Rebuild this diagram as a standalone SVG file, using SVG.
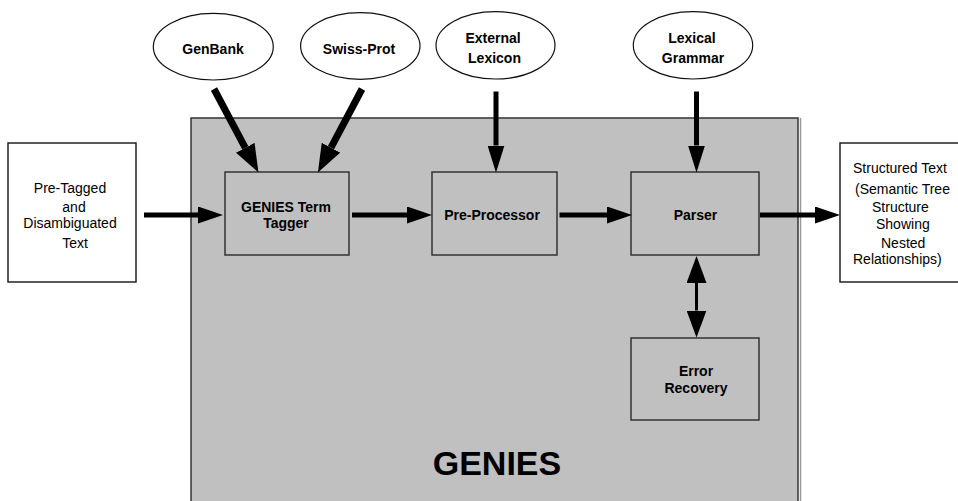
<svg xmlns="http://www.w3.org/2000/svg" width="958" height="501" viewBox="0 0 958 501">
<style>
.t{font-family:"Liberation Sans",Arial,sans-serif;font-size:14px;fill:#000;text-anchor:middle}
.b{font-weight:bold}
.l{text-anchor:start}
.box{fill:#c0c0c0;stroke:#333;stroke-width:1.5}
.wbox{fill:#fff;stroke:#222;stroke-width:1.5}
.ell{fill:#fff;stroke:#111;stroke-width:1.2}
.sh{stroke:#000;fill:none}
</style>
<defs>
<marker id="ah" viewBox="0 0 25 17" refX="0" refY="8.5" markerWidth="25" markerHeight="17" markerUnits="userSpaceOnUse" orient="auto"><path d="M0,0 L25,8.5 L0,17 Z" fill="#000"/></marker>
<marker id="av" viewBox="0 0 27 17" refX="0" refY="8.5" markerWidth="27" markerHeight="17" markerUnits="userSpaceOnUse" orient="auto"><path d="M0,0 L27,8.5 L0,17 Z" fill="#000"/></marker>
<marker id="ad" viewBox="0 0 28 21" refX="0" refY="10.5" markerWidth="28" markerHeight="21" markerUnits="userSpaceOnUse" orient="auto"><path d="M0,0 L28,10.5 L0,21 Z" fill="#000"/></marker>
<marker id="ab" viewBox="0 0 27 20" refX="0" refY="10" markerWidth="27" markerHeight="20" markerUnits="userSpaceOnUse" orient="auto-start-reverse"><path d="M0,0 L27,10 L0,20 Z" fill="#000"/></marker>
</defs>
<rect width="958" height="501" fill="#fff"/>
<g id="genies">
<rect x="191" y="118" width="607" height="400" class="box" stroke="#222"/>
<line x1="800.5" y1="118" x2="800.5" y2="501" stroke="#999" stroke-width="1.5"/>
<text x="497" y="475" class="t b" style="font-size:34px">GENIES</text>
</g>
<g id="input">
<rect x="8" y="143" width="128" height="139" class="wbox"/>
<text x="70" y="193" class="t">Pre-Tagged</text>
<text x="74" y="212" class="t">and</text>
<text x="70" y="228" class="t">Disambiguated</text>
<text x="75" y="248" class="t">Text</text>
</g>
<g id="output">
<rect x="840" y="143" width="130" height="139" class="wbox"/>
<text x="853" y="173" class="t l">Structured Text</text>
<text x="855" y="194" class="t l">(Semantic Tree</text>
<text x="872" y="212" class="t l">Structure</text>
<text x="876" y="229" class="t l">Showing</text>
<text x="881" y="248" class="t l">Nested</text>
<text x="853" y="264" class="t l">Relationships)</text>
</g>
<g id="genbank">
<ellipse cx="213.3" cy="46.7" rx="60" ry="33.3" class="ell"/>
<text x="213" y="54" class="t b">GenBank</text>
</g>
<g id="swissprot">
<ellipse cx="360.3" cy="46" rx="59.7" ry="33.3" class="ell"/>
<text x="359" y="54" class="t b">Swiss-Prot</text>
</g>
<g id="lexicon">
<ellipse cx="495.5" cy="45.3" rx="59.5" ry="33.7" class="ell"/>
<text x="493" y="43" class="t b">External</text>
<text x="494.5" y="63" class="t b">Lexicon</text>
</g>
<g id="grammar">
<ellipse cx="693" cy="45.3" rx="59.7" ry="33.7" class="ell"/>
<text x="692" y="43" class="t b">Lexical</text>
<text x="693" y="63" class="t b">Grammar</text>
</g>
<g id="tagger">
<rect x="225" y="172" width="124" height="83" class="box"/>
<text x="286" y="212" class="t b">GENIES Term</text>
<text x="286" y="228" class="t b">Tagger</text>
</g>
<g id="preprocessor">
<rect x="432" y="172" width="125" height="83" class="box"/>
<text x="492" y="220" class="t b">Pre-Processor</text>
</g>
<g id="parser">
<rect x="631" y="172" width="128" height="83" class="box"/>
<text x="695.5" y="220" class="t b">Parser</text>
</g>
<g id="errorrecovery">
<rect x="631" y="338" width="128" height="82" class="box"/>
<text x="696" y="376" class="t b">Error</text>
<text x="696" y="393" class="t b">Recovery</text>
</g>
<g id="connectors">
<line x1="214" y1="89" x2="245.3" y2="147.8" class="sh" stroke-width="7" marker-end="url(#ad)"/>
<line x1="362" y1="89" x2="331" y2="147.7" class="sh" stroke-width="7" marker-end="url(#ad)"/>
<line x1="496" y1="91.5" x2="496" y2="145.5" class="sh" stroke-width="5" marker-end="url(#av)"/>
<line x1="696.5" y1="91.5" x2="696.5" y2="145.5" class="sh" stroke-width="5" marker-end="url(#av)"/>
<line x1="144" y1="215" x2="198" y2="215" class="sh" stroke-width="5" marker-end="url(#ah)"/>
<line x1="352" y1="215" x2="407" y2="215" class="sh" stroke-width="5" marker-end="url(#ah)"/>
<line x1="559.5" y1="215" x2="607" y2="215" class="sh" stroke-width="5" marker-end="url(#ah)"/>
<line x1="760" y1="215" x2="815" y2="215" class="sh" stroke-width="5" marker-end="url(#ah)"/>
<line x1="696.5" y1="283" x2="696.5" y2="310.5" class="sh" stroke-width="3" marker-start="url(#ab)" marker-end="url(#ab)"/>
</g>
</svg>
